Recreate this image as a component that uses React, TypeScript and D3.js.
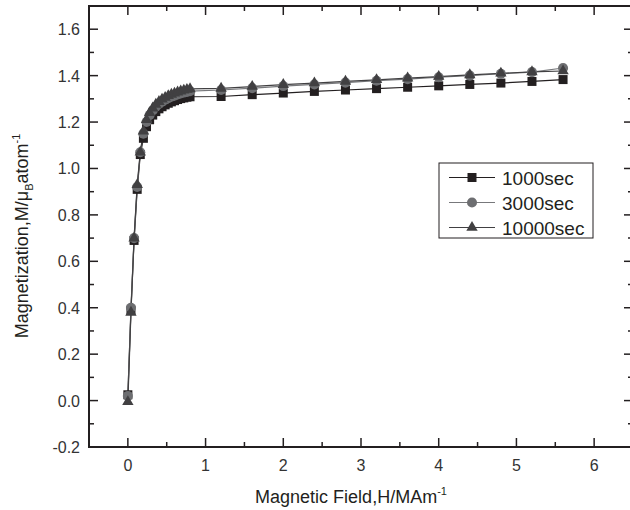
import * as d3 from 'd3';

const fieldValues = [
  0, 0.04, 0.08, 0.12, 0.16, 0.2, 0.24, 0.28, 0.32, 0.36, 0.4, 0.44, 0.48, 0.52, 0.56, 0.6, 0.64, 0.68,
  0.72, 0.76, 0.8, 1.2, 1.6, 2.0, 2.4, 2.8, 3.2, 3.6, 4.0, 4.4, 4.8, 5.2, 5.6,
];

const mag1000 = [
  0.025, 0.39, 0.69, 0.91, 1.06, 1.13, 1.18, 1.21, 1.23, 1.245, 1.257, 1.266, 1.274, 1.281, 1.287, 1.292,
  1.297, 1.301, 1.304, 1.307, 1.309, 1.31, 1.318, 1.325, 1.332, 1.338, 1.344, 1.35, 1.356, 1.362, 1.368,
  1.375, 1.383,
];

const mag3000 = [
  0.02, 0.4, 0.7, 0.92, 1.07, 1.15, 1.2, 1.23, 1.25, 1.266, 1.278, 1.288, 1.296, 1.303, 1.309, 1.314,
  1.319, 1.323, 1.327, 1.33, 1.333, 1.338, 1.346, 1.355, 1.362, 1.37, 1.378, 1.385, 1.393, 1.4, 1.408,
  1.415, 1.433,
];

const mag10000 = [
  -0.005, 0.38, 0.7, 0.93, 1.07, 1.16, 1.21, 1.24, 1.26, 1.276, 1.288, 1.298, 1.306, 1.313, 1.319, 1.324,
  1.329, 1.333, 1.337, 1.34, 1.343, 1.345, 1.353, 1.361, 1.368, 1.375, 1.382, 1.389, 1.396, 1.403, 1.41,
  1.416, 1.42,
];

const xTickLabels = [0, 1, 2, 3, 4, 5, 6];
const yTickLabels = [-0.2, 0, 0.2, 0.4, 0.6, 0.8, 1.0, 1.2, 1.4, 1.6];

const width = 630;
const height = 510;
const margin = { top: 6, right: -3, bottom: 63, left: 89 };
const font = '"Liberation Sans", Arial, sans-serif';
const ink = '#231f20';

const series = [
  { label: '1000sec', values: mag1000, symbol: d3.symbolSquare, size: 81, fill: '#231f20', stroke: '#231f20' },
  { label: '3000sec', values: mag3000, symbol: d3.symbolCircle, size: 80, fill: '#6d6e71', stroke: '#77787b' },
  { label: '10000sec', values: mag10000, symbol: d3.symbolTriangle, size: 56, fill: '#414042', stroke: '#414042' },
];

export default function App() {
  const x0 = margin.left;
  const x1 = width - margin.right;
  const y0 = height - margin.bottom;
  const y1 = margin.top;

  const x = d3.scaleLinear().domain([-0.5, 6.5]).range([x0, x1]);
  const y = d3.scaleLinear().domain([-0.2, 1.7]).range([y0, y1]);

  const line = d3
    .line<number>()
    .x((_, i) => x(fieldValues[i]))
    .y(d => y(d));

  const xMinor = d3.range(-0.5, 6.51, 0.5).filter(v => Math.abs(v - Math.round(v)) > 0.01);
  const yMinor = d3.range(-0.1, 1.71, 0.2);

  const majorLen = 9;
  const minorLen = 5;

  const legendX = 439;
  const legendY = 163;
  const legendW = 154;
  const legendH = 75;

  return (
    <svg
      width={width}
      height={height}
      style={{ position: 'absolute', left: 0, top: 0, background: '#fff' }}
      fontFamily={font}
    >
      {/* ticks, inward on all four sides */}
      <g stroke={ink} strokeWidth={1.5}>
        {xTickLabels.map(v => (
          <g key={`xt${v}`}>
            <line x1={x(v)} x2={x(v)} y1={y0} y2={y0 - majorLen} />
            <line x1={x(v)} x2={x(v)} y1={y1} y2={y1 + majorLen} />
          </g>
        ))}
        {xMinor.map(v => (
          <g key={`xm${v}`}>
            <line x1={x(v)} x2={x(v)} y1={y0} y2={y0 - minorLen} />
            <line x1={x(v)} x2={x(v)} y1={y1} y2={y1 + minorLen} />
          </g>
        ))}
        {yTickLabels.map(v => (
          <g key={`yt${v}`}>
            <line x1={x0} x2={x0 + majorLen} y1={y(v)} y2={y(v)} />
            <line x1={x1} x2={x1 - majorLen} y1={y(v)} y2={y(v)} />
          </g>
        ))}
        {yMinor.map(v => (
          <g key={`ym${v.toFixed(1)}`}>
            <line x1={x0} x2={x0 + minorLen} y1={y(v)} y2={y(v)} />
            <line x1={x1} x2={x1 - minorLen} y1={y(v)} y2={y(v)} />
          </g>
        ))}
      </g>

      {/* series lines */}
      {series.map(s => (
        <path key={`l${s.label}`} d={line(s.values) || ''} fill="none" stroke={s.stroke} strokeWidth={1.2} />
      ))}

      {/* markers */}
      {series.map(s => (
        <g key={`m${s.label}`} fill={s.fill}>
          {s.values.map((v, i) => (
            <path
              key={i}
              transform={`translate(${x(fieldValues[i])},${y(v)})`}
              d={d3.symbol().type(s.symbol).size(s.size)() || ''}
            />
          ))}
        </g>
      ))}

      {/* frame */}
      <rect x={x0} y={y1} width={x1 - x0} height={y0 - y1} fill="none" stroke={ink} strokeWidth={2} />

      {/* tick labels */}
      <g fontSize={16} fill="#333">
        {xTickLabels.map(v => (
          <text key={`xl${v}`} x={x(v)} y={y0 + 24} textAnchor="middle">
            {v}
          </text>
        ))}
        {yTickLabels.map(v => (
          <text key={`yl${v}`} x={80} y={y(v) + 6} textAnchor="end">
            {v.toFixed(1)}
          </text>
        ))}
      </g>

      {/* axis titles */}
      <text x={351} y={503} textAnchor="middle" fontSize={18} fill={ink}>
        Magnetic Field,H/MAm<tspan dy={-8} fontSize={11}>-1</tspan>
      </text>
      <text transform="translate(28,236) rotate(-90)" textAnchor="middle" fontSize={18} fill={ink}>
        Magnetization,M/μ<tspan dy={5} fontSize={11}>B</tspan>
        <tspan dy={-5}>atom</tspan>
        <tspan dy={-8} fontSize={11}>-1</tspan>
      </text>

      {/* legend */}
      <g>
        <rect x={legendX} y={legendY} width={legendW} height={legendH} fill="#fff" stroke={ink} strokeWidth={1} />
        {series.map((s, i) => {
          const cy = legendY + 14.5 + i * 25;
          return (
            <g key={`lg${s.label}`}>
              <line x1={449} x2={495} y1={cy} y2={cy} stroke={s.stroke} strokeWidth={1.2} />
              <path
                transform={`translate(472,${cy})`}
                d={d3.symbol().type(s.symbol).size(s.size)() || ''}
                fill={s.fill}
              />
              <text x={502} y={cy + 7} fontSize={19} fill={ink}>
                {s.label}
              </text>
            </g>
          );
        })}
      </g>
    </svg>
  );
}
